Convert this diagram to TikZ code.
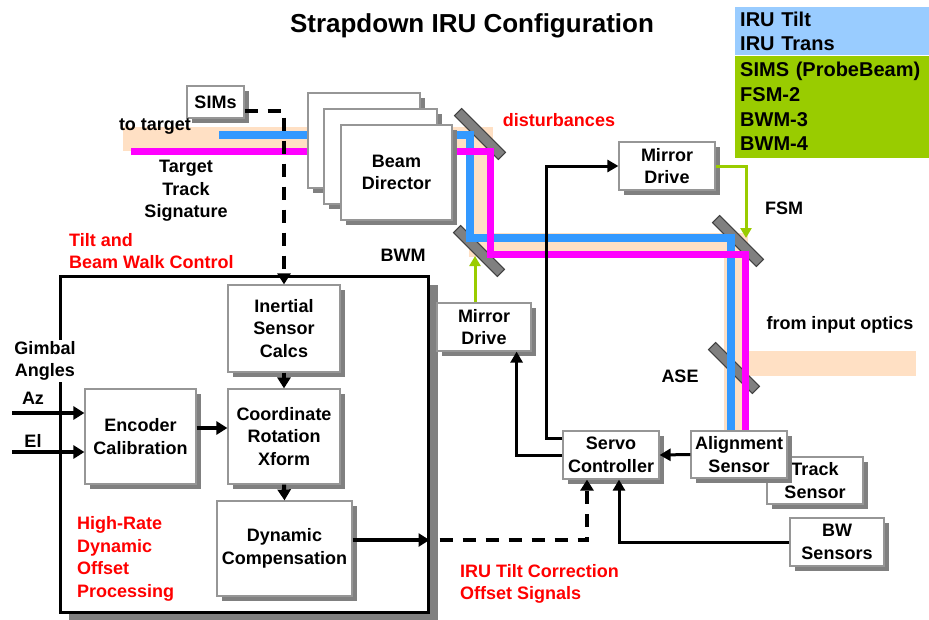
\documentclass[tikz,border=0pt]{standalone}
\usepackage{fontspec}
\setmainfont{Liberation Sans}
\usepackage{tikz}
\usetikzlibrary{positioning,calc,arrows.meta}

\definecolor{beamblue}{HTML}{3399FF}
\definecolor{beampink}{HTML}{FF00FF}
\definecolor{beampeach}{HTML}{FFE0C4}
\definecolor{drivegreen}{HTML}{99CC00}
\definecolor{legendblue}{HTML}{99CCFF}
\definecolor{shadowgray}{RGB}{128,128,128}
\definecolor{edgegray}{RGB}{150,150,150}

\tikzset{
  blk/.style={draw=edgegray, line width=1.2pt, fill=white, inner sep=0pt, align=center,
    font=\fontsize{18}{22.5}\selectfont\bfseries},
  lbl/.style={font=\fontsize{18}{22.5}\selectfont\bfseries, align=center, inner sep=1pt},
  redlbl/.style={lbl, text=red, align=left},
  legbox/.style={anchor=north west, minimum width=194pt, text width=184pt,
    inner xsep=5pt, inner ysep=0pt, align=left,
    font=\fontsize{20}{24.7}\selectfont\bfseries},
  mirror/.style={draw=black!75, fill=shadowgray, line width=1pt, minimum width=62pt,
    minimum height=10pt, inner sep=0pt, rotate=-45},
  arr/.style={line width=4pt, -{Triangle[length=11pt,width=13pt]}},
  sig/.style={line width=3pt, -{Triangle[length=11pt,width=12pt]}},
  dsh/.style={arr, dash pattern=on 13pt off 10pt},
  grn/.style={draw=drivegreen, line width=3pt, -{Triangle[length=10pt,width=11pt]}}
}

% box with a grey drop shadow: name, centre, width, height, text
\newcommand{\blockbox}[5]{%
  \path[fill=shadowgray] ($#2+(4.5-#3/2,4.5-#4/2)$) rectangle ($#2+(4.5+#3/2,4.5+#4/2)$);
  \node[blk, minimum width=#3pt, minimum height=#4pt] (#1) at #2 {#5};}

\begin{document}
\begin{tikzpicture}[x=1pt,y=-1pt]
\useasboundingbox (0,0) rectangle (929,619);
\fill[white] (0,0) rectangle (929,619);

\node[font=\fontsize{26}{30}\selectfont\bfseries] (title) at (472,26) {Strapdown IRU Configuration};

\node[legbox, fill=legendblue, minimum height=48pt] (legIRU) at (735,7) {IRU Tilt\\IRU Trans};
\node[legbox, fill=drivegreen, minimum height=102pt] (legProbe) at (legIRU.south west)
  {SIMS (ProbeBeam)\\FSM-2\\BWM-3\\BWM-4};

% optical path
\draw[beampeach, line width=24pt] (123,138.5) -- (481,138.5) -- (481,244.5) -- (735.5,244.5) -- (735.5,431);
\fill[beampeach] (748,351) rectangle (916,376);

\node[mirror] (mirBD) at (480,134) {};
\node[mirror] (mirBWM) at (479,251) {};
\node[mirror] (mirFSM) at (738,241) {};
\node[mirror] (mirASE) at (734,368) {};

\draw[beamblue, line width=8.5pt] (219,135) -- (470,135) -- (470,238) -- (731,238) -- (731,431);
\draw[beampink, line width=7pt] (131,151) -- (490,151) -- (490,254) -- (745,254) -- (745,431);

\blockbox{bdBack}{(364,140.5)}{112}{95}{}
\blockbox{bdMid}{(380.5,156.5)}{113}{95}{}
\blockbox{bdFront}{(396.5,172.5)}{111}{95}{Beam\\Director}

\blockbox{sims}{(215.5,102)}{57}{32}{SIMs}

% tilt and beam walk control
\fill[shadowgray] (69,285) rectangle (438,621);
\node[draw, line width=3pt, fill=white, minimum width=368pt, minimum height=336pt]
  (irubox) at (244,444) {};

\blockbox{inertial}{(284,328.5)}{112}{87}{Inertial\\Sensor\\Calcs}
\blockbox{coord}{(284,436.5)}{112}{95}{Coordinate\\Rotation\\Xform}
\blockbox{encoder}{(140.5,436.5)}{111}{95}{Encoder\\Calibration}
\blockbox{dyncomp}{(284.5,548.5)}{135}{95}{Dynamic\\Compensation}

\node[lbl, fill=white] (gimbal) at (45,361) {Gimbal\\Angles};
\node[lbl] (azLbl) at (33,398) {Az};
\node[lbl] (elLbl) at (33,441) {El};
\coordinate (azIn) at (12,413);
\coordinate (elIn) at (12,452);

\draw[arr] (azIn) -- (azIn -| encoder.west);
\draw[arr] (elIn) -- (elIn -| encoder.west);
\draw[arr] ($(encoder.east)+(0,-8.5)$) -- ($(coord.west)+(0,-8.5)$);
\draw[arr] (inertial.south) -- (coord.north);
\draw[arr] (coord.south) -- (dyncomp.north);
\draw[arr] ($(dyncomp.east)+(0,-8.5)$) -- ($(irubox.east |- dyncomp.east)+(0,-8.5)$);

\draw[dsh] ($(sims.east)+(0,9)$) -| (inertial.north);

% servo loop
\blockbox{mdUp}{(667,166)}{96}{48}{Mirror\\Drive}
\blockbox{mdLow}{(484,327)}{94}{48}{Mirror\\Drive}
\blockbox{servo}{(611,455)}{96}{48}{Servo\\Controller}
\blockbox{track}{(815,480.5)}{96}{47}{Track\\Sensor}
\blockbox{align}{(739,454.5)}{96}{47}{Alignment\\Sensor}
\blockbox{bws}{(837,542)}{94}{48}{BW\\Sensors}

\coordinate (fsmHit) at (746,238);
\coordinate (bwmHit) at (475,256);
\coordinate (tiltOut) at ($(irubox.east |- dyncomp.east)+(10,-8.5)$);

\draw[sig] (align.west) -- (servo.east);
\draw[sig] (bws.west) -| ($(servo.south)+(8,0)$);
\draw[dsh] (tiltOut) -| ($(servo.south)+(-24,0)$);
\draw[sig] (servo.west) -| ($(mdLow.south east)+(-15,0)$);
\draw[sig] ($(servo.north west)+(0,8)$) -| ($(mdUp.west)+(-72,0)$) -- (mdUp.west);
\draw[grn] (mdUp.east) -| (fsmHit);
\draw[grn] ($(mdLow.north)+(-9,0)$) -- (bwmHit);

% labels
\node[lbl] (toTarget) at (155,127) {to target};
\node[lbl] (signature) at (186,191) {Target\\Track\\Signature};
\node[lbl, text=red] (disturb) at (559,120) {disturbances};
\node[lbl] (bwmLbl) at (403,255) {BWM};
\node[lbl] (fsmLbl) at (784,208) {FSM};
\node[lbl] (aseLbl) at (680,376) {ASE};
\node[lbl] (inputLbl) at (840,325) {from input optics};
\node[redlbl, anchor=west] (tiltLbl) at (68,251) {Tilt and\\Beam Walk Control};
\node[redlbl, anchor=west] (rateLbl) at (76,559) {High-Rate\\Dynamic\\Offset\\Processing};
\node[redlbl, anchor=west] (corrLbl) at (459,584) {IRU Tilt Correction\\Offset Signals};
\end{tikzpicture}
\end{document}
